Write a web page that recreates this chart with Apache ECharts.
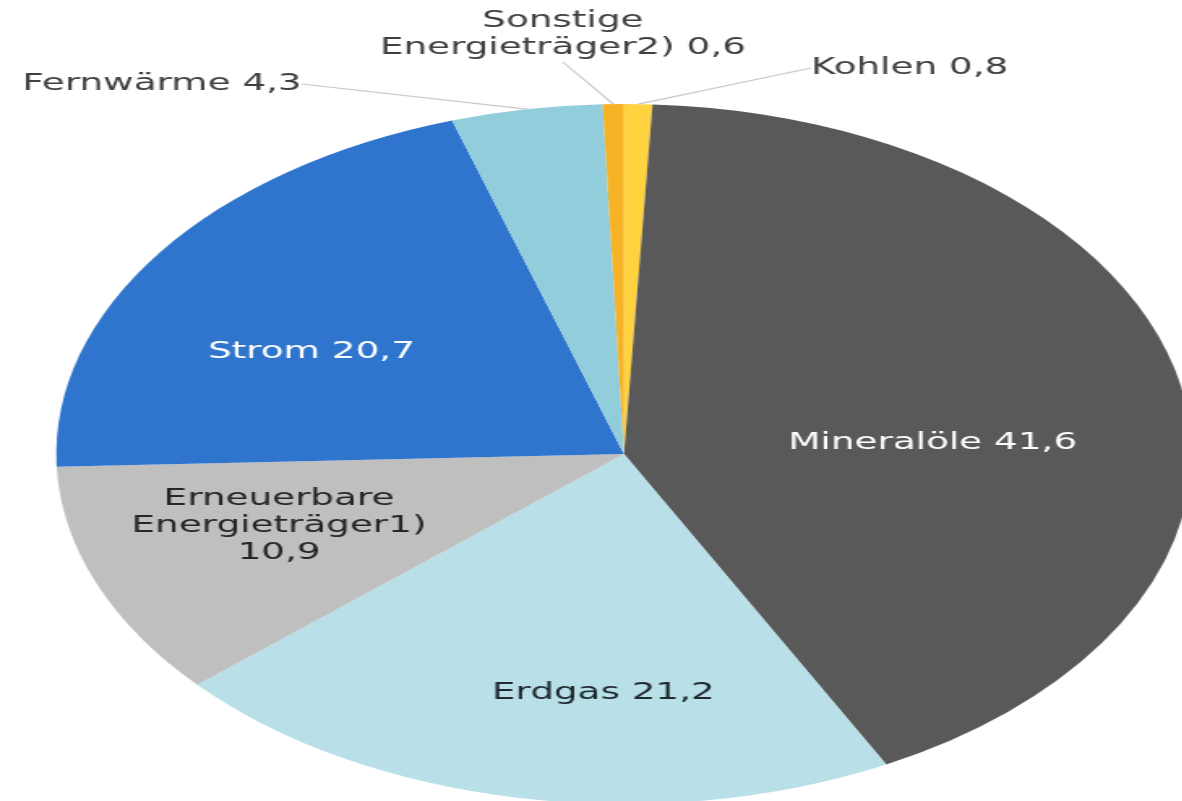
<!DOCTYPE html>
<html>
<head>
<meta charset="utf-8">
<title>Energieträger</title>
<script src="https://cdn.jsdelivr.net/npm/echarts@6/dist/echarts.min.js"></script>
<style>
  html, body { margin: 0; padding: 0; background: #fff; overflow: hidden; }
  #wrap { width: 1182px; height: 801px; overflow: hidden; }
  /* the source picture is stretched sideways, so the chart is too */
  #chart { width: 729px; height: 801px; transform: scaleX(1.622); transform-origin: 0 0; }
</style>
</head>
<body>
<div id="wrap"><div id="chart"></div></div>
<script>
  // Anteile in %, im Uhrzeigersinn ab 12 Uhr
  const categories = ['Kohlen', 'Mineralöle', 'Erdgas', 'Erneuerbare\nEnergieträger1)', 'Strom', 'Fernwärme', 'Sonstige\nEnergieträger2)'];
  const values = [0.8, 41.6, 21.2, 10.9, 20.7, 4.3, 0.6];
  const colors = ['#FFD23F', '#595959', '#B9DFE8', '#BFBFBF', '#2F75CD', '#92CDDC', '#F5B325'];
  const textColors = ['#404040', '#ffffff', '#1f2a30', '#262626', '#ffffff', '#404040', '#404040'];
  const outside = ['Kohlen', 'Fernwärme', 'Sonstige\nEnergieträger2)'];

  // Label spots, in the unstretched chart box
  const labelSpots = {
    0: { x: 500, y: 68, align: 'left' },
    1: { x: 575, y: 443, align: 'center' },
    2: { x: 372, y: 693, align: 'center' },
    3: { x: 172, y: 526, align: 'center' },
    4: { x: 192, y: 352, align: 'center' },
    5: { x: 186, y: 84, align: 'right' },
    6: { x: 347, y: 35, align: 'center' }
  };

  function fmt(v) {
    return v.toFixed(1).replace('.', ',');
  }

  const chart = echarts.init(document.getElementById('chart'));

  const pieData = categories.map(function (name, i) {
    const isOut = outside.indexOf(name) >= 0;
    return {
      name: name,
      value: values[i],
      itemStyle: { color: colors[i] },
      label: {
        position: isOut ? 'outside' : 'inside',
        color: textColors[i]
      },
      labelLine: { show: isOut }
    };
  });

  chart.setOption({
    animation: false,
    backgroundColor: '#ffffff',
    series: [{
      type: 'pie',
      center: [384.7, 454],
      radius: 350,
      startAngle: 90,
      clockwise: true,
      avoidLabelOverlap: false,
      data: pieData,
      itemStyle: { borderWidth: 0 },
      label: {
        show: true,
        fontFamily: 'DejaVu Sans',
        fontSize: 23,
        lineHeight: 27,
        align: 'center',
        formatter: function (p) {
          return p.name + (p.dataIndex === 3 ? '\n' : ' ') + fmt(p.value);
        }
      },
      labelLine: {
        length: 10,
        length2: 0,
        smooth: false,
        lineStyle: { color: '#c8c8c8', width: 1.2 }
      },
      emphasis: { disabled: true },
      labelLayout: function (params) {
        const s = labelSpots[params.dataIndex];
        return { x: s.x, y: s.y, align: s.align, verticalAlign: 'middle' };
      }
    }]
  });
</script>
</body>
</html>
